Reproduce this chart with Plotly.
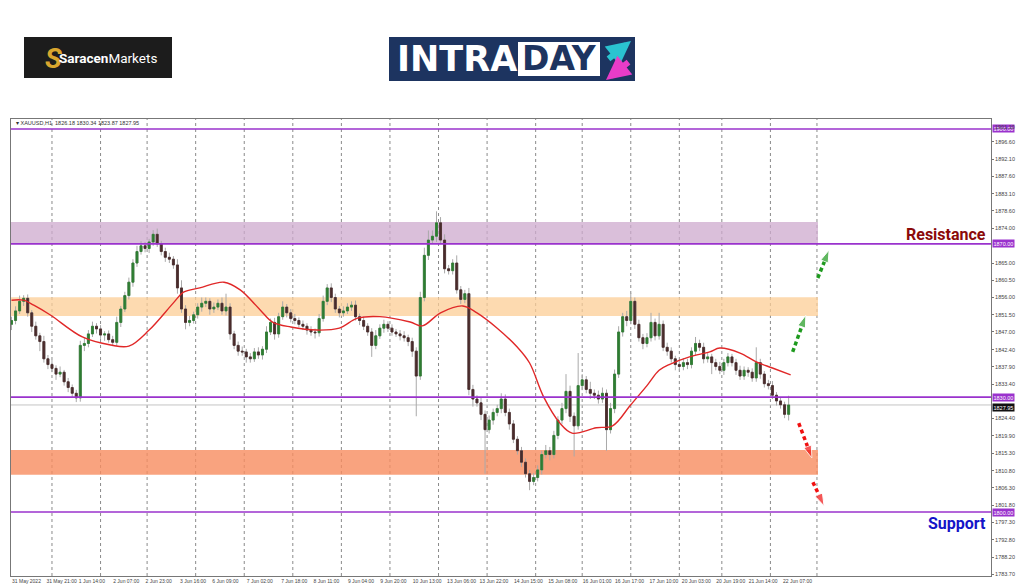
import plotly.graph_objects as go

# ---------------- data ----------------
first_open = 1849.0
close = [
    1850.0, 1852.5, 1855.0, 1855.8, 1852.0, 1848.5, 1846.0, 1844.5, 1840.0, 1838.5,
    1837.5, 1836.0, 1836.5, 1834.0, 1832.5, 1831.0, 1829.8, 1843.5, 1844.0, 1846.5,
    1848.5, 1847.8, 1846.2, 1846.5, 1845.0, 1844.3, 1849.5, 1853.0, 1856.5, 1860.0,
    1865.0, 1868.0, 1869.5, 1868.8, 1870.5, 1872.5, 1870.0, 1868.0, 1866.5, 1866.0,
    1864.5, 1858.5, 1853.0, 1849.5, 1850.0, 1851.5, 1853.5, 1854.5, 1855.0, 1853.0,
    1853.5, 1854.5, 1852.5, 1853.5, 1846.5, 1843.5, 1842.0, 1841.8, 1840.5, 1840.0,
    1841.8, 1841.0, 1842.5, 1847.0, 1849.5, 1846.5, 1851.0, 1853.5, 1852.0, 1850.5,
    1850.0, 1849.0, 1848.5, 1847.5, 1847.0, 1846.8, 1850.5, 1855.0, 1858.5, 1856.0,
    1853.0, 1852.0, 1852.5, 1853.5, 1854.0, 1851.0, 1850.0, 1848.5, 1847.0, 1843.5,
    1846.0, 1848.0, 1849.0, 1848.0, 1847.0, 1846.5, 1846.0, 1845.5, 1844.5, 1842.0,
    1835.5, 1856.0, 1867.0, 1871.0, 1872.0, 1875.5, 1871.0, 1863.5, 1863.0, 1865.0,
    1858.0, 1855.5, 1857.0, 1832.0, 1829.5, 1828.5, 1825.5, 1821.5, 1824.0, 1826.0,
    1827.0, 1829.5, 1826.0, 1823.0, 1819.0, 1816.0, 1813.0, 1810.0, 1808.0, 1809.0,
    1811.0, 1815.0, 1816.0, 1815.0, 1820.0, 1824.0, 1827.0, 1831.5, 1825.0, 1822.5,
    1833.0, 1834.5, 1832.0, 1831.0, 1830.5, 1829.5, 1831.0, 1821.5, 1827.0, 1836.0,
    1847.0, 1851.0, 1850.0, 1855.0, 1849.0, 1845.5, 1844.0, 1845.5, 1849.5, 1846.0,
    1849.0, 1843.0, 1842.0, 1840.0, 1838.5, 1838.0, 1839.0, 1838.5, 1842.0, 1844.0,
    1843.0, 1840.0, 1840.5, 1839.0, 1838.0, 1837.0, 1839.0, 1840.5, 1839.0, 1837.0,
    1835.5, 1837.0, 1836.5, 1835.0, 1839.0, 1836.0, 1833.5, 1833.0, 1830.5, 1829.0,
    1828.0, 1825.5, 1827.95,
]
up_wick = [
    1.0, 1.2, 1.5, 0.8, 1.0, 0.7, 1.2, 0.8, 1.5, 1.0,
    1.2, 0.8, 1.5, 0.6, 1.0, 0.8, 0.9, 1.2, 1.5, 1.0,
    1.2, 0.8, 1.0, 0.7, 0.9, 1.0, 1.5, 0.8, 1.0, 1.2,
    1.0, 1.5, 1.2, 1.0, 0.8, 1.1, 1.5, 0.8, 1.0, 1.2,
    0.8, 1.5, 2.0, 1.0, 1.2, 0.8, 1.0, 1.5, 1.0, 0.8,
    1.2, 1.0, 1.5, 3.5, 1.0, 0.8, 1.0, 1.2, 0.8, 1.0,
    1.0, 1.2, 0.8, 1.5, 1.0, 1.2, 1.0, 1.5, 0.8, 1.0,
    1.2, 0.8, 1.0, 0.8, 1.0, 0.9, 1.2, 1.5, 1.0, 1.2,
    1.0, 0.8, 1.2, 1.0, 1.0, 1.2, 0.8, 1.0, 0.8, 1.0,
    1.5, 1.0, 1.2, 0.8, 1.0, 0.8, 1.0, 1.2, 0.8, 1.0,
    1.0, 1.5, 2.0, 2.5, 1.5, 3.0, 1.5, 1.5, 1.0, 1.0,
    2.0, 1.0, 1.0, 1.5, 1.2, 1.0, 1.5, 1.0, 1.2, 1.0,
    1.0, 1.5, 1.2, 1.0, 1.0, 0.8, 1.0, 1.0, 1.0, 1.2,
    1.2, 1.0, 1.5, 1.0, 1.2, 1.0, 1.5, 4.5, 1.5, 1.0,
    8.5, 1.5, 1.0, 2.0, 1.0, 1.2, 1.5, 1.0, 1.5, 1.2,
    1.5, 1.0, 1.5, 2.2, 1.0, 1.2, 1.0, 1.2, 2.5, 1.0,
    3.0, 1.0, 1.2, 1.0, 0.8, 1.0, 1.2, 1.0, 1.0, 1.7,
    1.0, 1.2, 1.0, 0.8, 1.0, 1.2, 1.0, 1.0, 0.8, 1.0,
    1.2, 1.0, 0.8, 1.0, 4.0, 1.0, 0.8, 1.0, 1.2, 0.8,
    1.0, 0.8, 2.4,
]
dn_wick = [
    1.5, 1.0, 0.8, 1.2, 1.0, 1.5, 1.0, 2.5, 1.0, 1.2,
    1.0, 1.5, 0.8, 1.0, 1.2, 1.0, 1.1, 1.0, 1.5, 1.0,
    0.8, 1.2, 1.0, 1.5, 0.8, 1.0, 1.0, 1.2, 0.8, 1.0,
    1.2, 1.0, 0.8, 1.0, 1.2, 1.0, 0.8, 1.0, 1.2, 1.0,
    1.0, 1.5, 1.0, 1.8, 1.0, 0.8, 1.0, 1.2, 1.0, 1.5,
    1.0, 0.8, 1.0, 1.2, 1.5, 1.0, 1.2, 1.0, 1.5, 1.0,
    0.8, 1.0, 1.2, 1.0, 0.8, 1.5, 1.0, 0.8, 1.2, 1.0,
    1.0, 0.8, 1.0, 1.2, 1.0, 1.5, 1.0, 0.8, 1.0, 1.2,
    1.0, 1.2, 1.0, 0.8, 1.0, 1.0, 1.2, 1.0, 1.0, 3.0,
    1.0, 0.8, 1.2, 1.0, 1.0, 0.8, 1.2, 1.0, 1.2, 1.5,
    10.5, 1.0, 1.0, 1.2, 1.0, 1.5, 1.0, 1.2, 1.0, 1.0,
    1.0, 1.2, 1.0, 1.5, 2.0, 1.0, 1.5, 11.5, 1.0, 1.2,
    1.0, 1.2, 1.0, 1.5, 1.0, 1.0, 1.2, 1.0, 2.3, 1.0,
    1.0, 1.2, 1.0, 1.5, 1.0, 1.0, 1.0, 1.2, 1.5, 8.0,
    1.0, 1.2, 1.0, 1.5, 1.0, 1.2, 1.0, 5.5, 1.0, 1.2,
    1.0, 1.2, 1.5, 1.0, 1.2, 1.0, 1.5, 1.0, 1.0, 1.2,
    1.0, 1.0, 1.2, 1.0, 1.5, 1.0, 1.0, 1.2, 1.0, 1.0,
    1.0, 1.2, 1.0, 3.0, 1.0, 1.0, 1.2, 1.0, 1.0, 1.2,
    1.0, 1.0, 1.2, 1.0, 1.0, 1.2, 1.0, 1.0, 1.0, 1.2,
    1.0, 1.0, 1.6,
]
# bar position on the hourly time index (one candle every 2 hours)
bar_idx = list(range(0, 2 * len(close), 2))

# moving average (red line), read at points along the chart
ma_idx = [0, 6, 11, 19, 35, 49, 58, 68, 80, 85, 93, 105, 113, 123, 129, 138, 151, 162,
          171, 182, 197, 203, 212, 223, 230, 240, 250, 256, 263, 271, 277, 289, 297,
          306, 314, 320, 325, 335, 345, 350, 360, 368, 376, 385]
ma_val = [1855.3, 1855.3, 1854.0, 1851.5, 1845.7, 1843.6, 1843.3, 1847.5, 1854.6, 1857.4,
          1858.5, 1860.0, 1858.0, 1852.7, 1849.6, 1848.3, 1847.5, 1848.0, 1850.6, 1851.0,
          1849.6, 1848.6, 1852.0, 1853.8, 1852.0, 1848.0, 1843.0, 1838.9, 1830.0, 1823.2,
          1820.6, 1822.0, 1822.5, 1828.0, 1833.0, 1837.0, 1838.5, 1840.5, 1841.8, 1842.8,
          1841.5, 1839.2, 1837.6, 1835.8]

label_idx = [0, 17, 33, 50, 66, 83, 99, 116, 133, 149, 166, 182, 198, 215, 231, 248,
             265, 282, 298, 315, 331, 348, 364, 381]
label_txt = ["31 May 2022", "31 May 21:00", "1 Jun 14:00", "2 Jun 07:00", "2 Jun 23:00",
             "3 Jun 16:00", "6 Jun 09:00", "7 Jun 02:00", "7 Jun 18:00", "8 Jun 11:00",
             "9 Jun 04:00", "9 Jun 20:00", "10 Jun 13:00", "13 Jun 06:00", "13 Jun 22:00",
             "14 Jun 15:00", "15 Jun 08:00", "16 Jun 01:00", "16 Jun 17:00", "17 Jun 10:00",
             "20 Jun 03:00", "20 Jun 19:00", "21 Jun 14:00", "22 Jun 07:00"]
day_idx = [20, 44, 67, 91, 115, 139, 163, 187, 211, 235, 259, 282, 306, 330, 351, 375, 398]

ytick_top = 1901.10
ytick_vals = [1896.60, 1892.10, 1887.60, 1883.10, 1878.60, 1874.00, 1865.00,
              1860.50, 1856.00, 1851.50, 1847.00, 1842.40, 1837.90, 1833.40, 1824.40,
              1819.90, 1815.30, 1810.80, 1806.30, 1801.80, 1797.30, 1792.80, 1788.20, 1783.70]

levels = [1900.00, 1870.00, 1830.00, 1800.00]
last_price = 1827.95
header = "XAUUSD,H1  1826.18 1830.34 1823.87 1827.95"

zone_lo = [1870.0, 1851.2, 1809.7]
zone_hi = [1875.7, 1856.1, 1816.2]
zone_end = 398.5

# projected path arrows (start index, start price, end index, end price)
green_arrows = [(386, 1841.8, 392.5, 1851.4), (398.4, 1861.1, 404, 1868.4)]
red_arrows = [(389, 1823.2, 395.5, 1814.1), (396, 1807.8, 401.5, 1801.6)]

# ---------------- derived OHLC ----------------
opens = [first_open] + close[:-1]
body_hi = [max(o, c) for o, c in zip(opens, close)]
body_lo = [min(o, c) for o, c in zip(opens, close)]
highs = [b + u for b, u in zip(body_hi, up_wick)]
lows = [b - d for b, d in zip(body_lo, dn_wick)]

# ---------------- layout geometry (page pixels; page body has an 8px margin) ----------
OFF = 8
W, H = 1024 - OFF, 587 - OFF
PL, PR, PT, PB = 11, 991, 119, 576          # plot area on the page
ML, MR, MT, MB = PL - OFF, W - (PR - OFF), PT - OFF, H - (PB - OFF)
PW, PH = W - ML - MR, H - MT - MB


def px(x):
    return (x - OFF - ML) / PW


def py(y):
    return (H - MB - (y - OFF)) / PH


PURPLE = "#9a32cd"
fig = go.Figure()

# wicks (gray) + bodies (colored)
fig.add_trace(go.Candlestick(
    x=bar_idx, open=opens, high=highs, low=lows, close=close,
    increasing=dict(line=dict(color="#a9a9a9", width=1), fillcolor="#a9a9a9"),
    decreasing=dict(line=dict(color="#a9a9a9", width=1), fillcolor="#a9a9a9"),
    whiskerwidth=0, showlegend=False, hoverinfo="skip"))
fig.add_trace(go.Candlestick(
    x=bar_idx, open=opens, high=body_hi, low=body_lo, close=close,
    increasing=dict(line=dict(color="#2e7d32", width=0.8), fillcolor="#2e7d32"),
    decreasing=dict(line=dict(color="#4a2c2c", width=0.8), fillcolor="#4a2c2c"),
    showlegend=False))

fig.add_trace(go.Scatter(x=ma_idx, y=ma_val, mode="lines",
                         line=dict(color="#e02828", width=1.4, shape="spline"),
                         showlegend=False, hoverinfo="skip"))

for arrows, col in ((green_arrows, "#1e9a1e"), (red_arrows, "#f01010")):
    for x0, y0, x1, y1 in arrows:
        fig.add_trace(go.Scatter(
            x=[x0, x1], y=[y0, y1], mode="lines+markers",
            line=dict(color=col, width=3.5, dash="4px,3px"),
            marker=dict(symbol="arrow", size=[0, 13], angleref="previous", color=col),
            showlegend=False, hoverinfo="skip"))

# zones
zone_cols = ["rgba(205,170,205,0.75)", "rgba(252,205,150,0.75)", "rgba(248,140,95,0.8)"]
for lo, hi, col in zip(zone_lo, zone_hi, zone_cols):
    fig.add_shape(type="rect", xref="x", yref="y", x0=-0.25, x1=zone_end, y0=lo, y1=hi,
                  fillcolor=col, line=dict(width=0), layer="below")

# day separator grid
for d in day_idx:
    fig.add_shape(type="line", xref="x", yref="paper", x0=d, x1=d, y0=0, y1=1,
                  line=dict(color="#8a8a8a", width=1, dash="dot"), layer="below")

# level lines
for lv in levels:
    fig.add_shape(type="line", xref="paper", yref="y", x0=0, x1=1, y0=lv, y1=lv,
                  line=dict(color=PURPLE, width=1.6))
    fig.add_annotation(xref="paper", yref="y", x=1, y=lv, xanchor="left", xshift=1,
                       text=f"{lv:.2f}", showarrow=False, bgcolor=PURPLE,
                       font=dict(size=5.5, color="white", family="Liberation Sans"),
                       borderpad=0.5)
fig.add_shape(type="line", xref="paper", yref="y", x0=0, x1=1, y0=last_price, y1=last_price,
              line=dict(color="#c4c4c4", width=1), layer="below")
fig.add_annotation(xref="paper", yref="y", x=1, y=last_price, xanchor="left", xshift=1,
                   yshift=-3, text=f"{last_price:.2f}", showarrow=False, bgcolor="#111111",
                   font=dict(size=5.5, color="white", family="Liberation Sans"), borderpad=0.5)
# top axis label, sitting just above the 1900.00 box
fig.add_annotation(xref="paper", yref="paper", x=1, y=py(121.5), xanchor="left", xshift=2,
                   text=f"{ytick_top:.2f}", showarrow=False,
                   font=dict(size=5.5, color="#444444", family="Liberation Sans"))

# header text
fig.add_annotation(xref="paper", yref="paper", x=px(14), y=py(123), xanchor="left",
                   yanchor="middle", text="▾ " + header, showarrow=False,
                   font=dict(size=5.5, color="#333333", family="Liberation Sans"))

# Resistance / Support labels
fig.add_annotation(xref="paper", yref="paper", x=px(988), y=py(234), xanchor="right",
                   yanchor="middle", text="<b>Resistance</b>", showarrow=False,
                   font=dict(size=16, color="#8b0a0a", family="Roboto"))
fig.add_annotation(xref="paper", yref="paper", x=px(988), y=py(523), xanchor="right",
                   yanchor="middle", text="<b>Support</b>", showarrow=False,
                   font=dict(size=16, color="#1414c8", family="Roboto"))

# ---------------- logos ----------------
fig.add_shape(type="rect", xref="paper", yref="paper", x0=px(24), x1=px(172), y0=py(78),
              y1=py(37), fillcolor="#1c1c1c", line=dict(width=0))
fig.add_annotation(xref="paper", yref="paper", x=px(43), y=py(58), yanchor="middle",
                   text="<b><i>S</i></b>", showarrow=False,
                   font=dict(size=28, color="#d9a62e", family="Roboto"))
fig.add_annotation(xref="paper", yref="paper", x=px(57), y=py(58), xanchor="left",
                   yanchor="middle", text="<b>Saracen</b>Markets", showarrow=False,
                   font=dict(size=13.5, color="white", family="Roboto"))

fig.add_shape(type="rect", xref="paper", yref="paper", x0=px(389), x1=px(635), y0=py(81),
              y1=py(37), fillcolor="#1d3460", line=dict(width=0))
fig.add_shape(type="rect", xref="paper", yref="paper", x0=px(518), x1=px(600), y0=py(76),
              y1=py(42), fillcolor="white", line=dict(width=0))
fig.add_annotation(xref="paper", yref="paper", x=px(395), y=py(59), xanchor="left",
                   yanchor="middle", text="<b>INTRA</b>", showarrow=False,
                   font=dict(size=35, color="white", family="DejaVu Sans"))
fig.add_annotation(xref="paper", yref="paper", x=px(559), y=py(59), yanchor="middle",
                   text="<b>DAY</b>", showarrow=False,
                   font=dict(size=33, color="#1d3460", family="DejaVu Sans"))
fig.add_annotation(xref="paper", yref="paper", x=px(631), y=py(41), ax=-24, ay=19,
                   text="", showarrow=True, arrowhead=2, arrowsize=0.8, arrowwidth=6,
                   arrowcolor="#2ac3d0")
fig.add_annotation(xref="paper", yref="paper", x=px(606), y=py(80), ax=24, ay=-19,
                   text="", showarrow=True, arrowhead=2, arrowsize=0.8, arrowwidth=6,
                   arrowcolor="#e83cc8")

fig.update_layout(
    width=W, height=H, margin=dict(l=ML, r=MR, t=MT, b=MB, autoexpand=False),
    paper_bgcolor="white", plot_bgcolor="white",
    xaxis=dict(range=[-0.25, 484], tickvals=label_idx, ticktext=label_txt, tickangle=0,
               tickfont=dict(size=5, color="#444444", family="Liberation Sans"),
               ticklabelposition="outside right", showgrid=False, zeroline=False,
               showline=True, mirror=True, linecolor="#777777", linewidth=1,
               ticks="", automargin=False, rangeslider=dict(visible=False)),
    yaxis=dict(range=[1783.3, 1902.6], side="right", tickvals=ytick_vals,
               ticktext=[f"{v:.2f}" for v in ytick_vals], automargin=False,
               tickfont=dict(size=5.5, color="#444444", family="Liberation Sans"),
               showgrid=False, zeroline=False, showline=True, mirror=True,
               linecolor="#777777", linewidth=1, ticks="outside", ticklen=2,
               tickcolor="#777777"),
    showlegend=False,
)

fig.write_html("out.html")
